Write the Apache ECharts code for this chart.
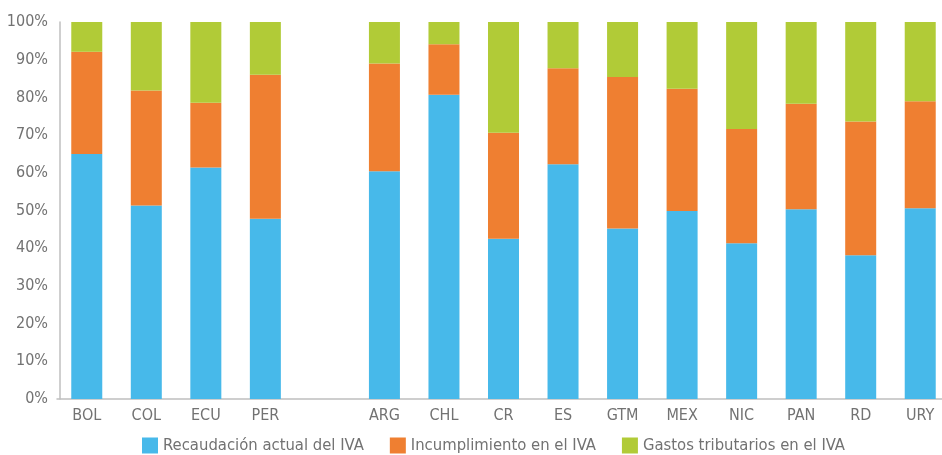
<!DOCTYPE html>
<html>
<head>
<meta charset="utf-8">
<script src="https://cdn.jsdelivr.net/npm/echarts@6/dist/echarts.min.js"></script>
<style>
  html, body { margin: 0; padding: 0; background: #fff; overflow: hidden; }
  #chart { width: 950px; height: 455px; }
</style>
</head>
<body>
<div id="chart"></div>
<script>
// paises (hueco vacio entre PER y ARG)
var paises = ['BOL', 'COL', 'ECU', 'PER', '', 'ARG', 'CHL', 'CR', 'ES', 'GTM', 'MEX', 'NIC', 'PAN', 'RD', 'URY']
var recaudacion   = [65.0, 51.3, 61.4, 47.8, null, 60.4, 80.7, 42.5, 62.3, 45.2, 49.9, 41.3, 50.3, 38.1, 50.6]
var incumplimiento = [27.1, 30.5, 17.2, 38.2, null, 28.6, 13.4, 28.1, 25.4, 40.2, 32.4, 30.3, 28.0, 35.5, 28.4]
var gastos        = [7.9, 18.2, 21.4, 14.0, null, 11.0, 5.9, 29.4, 12.3, 14.6, 17.7, 28.4, 21.7, 26.4, 21.0]
var nombres = ['Recaudación actual del IVA', 'Incumplimiento en el IVA', 'Gastos tributarios en el IVA']
var colores = ['#47B9EA', '#EF7F31', '#B1CB37']

var fuente = '"Liberation Sans Narrow", "DejaVu Sans Condensed", sans-serif'
var gris = '#727272'

function serie(i, datos) {
    return {
        name: nombres[i],
        type: 'bar',
        stack: 'total',
        barWidth: 31,
        itemStyle: { color: colores[i] },
        data: datos
    }
}

// el grafico es un poco mas ancho que la ventana: la ultima categoria queda cortada como en el original
var myChart = echarts.init(document.getElementById('chart'))
var option = {
    animation: false,
    textStyle: { fontFamily: fuente },
    grid: { left: 57, right: 0, top: 22, bottom: 56 },
    legend: {
        top: 432,
        left: 137,
        itemWidth: 16,
        itemHeight: 16,
        itemGap: 26,
        icon: 'rect',
        textStyle: { fontSize: 16.5, color: gris, fontFamily: fuente },
        data: nombres
    },
    xAxis: {
        type: 'category',
        data: paises,
        axisLine: { lineStyle: { color: '#bfbfbf', width: 1.5 } },
        axisTick: { show: false },
        axisLabel: { fontSize: 16, color: gris, margin: 9, interval: 0 }
    },
    yAxis: {
        type: 'value',
        min: 0,
        max: 100,
        interval: 10,
        offset: -3,
        axisLine: { show: true, lineStyle: { color: '#bfbfbf', width: 1.5 } },
        axisTick: { show: false },
        splitLine: { show: false },
        axisLabel: { fontSize: 16, color: gris, margin: 12, formatter: '{value}%' }
    },
    series: [
        serie(0, recaudacion),
        serie(1, incumplimiento),
        serie(2, gastos)
    ]
}
myChart.setOption(option)
</script>
</body>
</html>
